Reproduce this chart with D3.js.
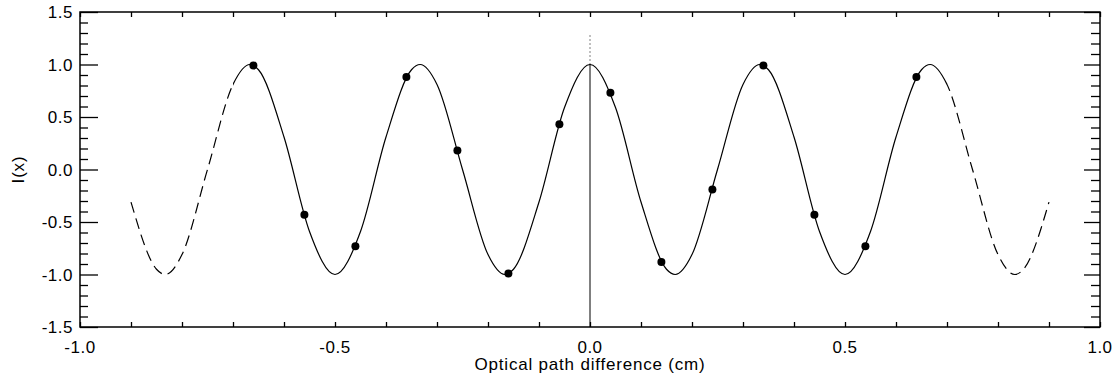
<!DOCTYPE html>
<meta charset="utf-8">
<style>
    body { margin: 0; background: #fff; }
    text { font-family: "Liberation Sans", Arial, sans-serif; fill: #000; }
    .tick-label { font-size: 17px; letter-spacing: 0.5px; }
    .axis-title { font-size: 17px; letter-spacing: 0.8px; }
    .frame { fill: none; stroke: #000; stroke-width: 1.5px; }
    .curve { fill: none; stroke: #000; stroke-width: 1.2px; }
</style>
<svg id="f" width="1120" height="379"></svg>
<script src="https://cdn.jsdelivr.net/npm/d3@7"></script>
<script>
    // curve samples (x in cm, I(x))
    var curveX = [-0.9, -0.85, -0.833, -0.8, -0.75, -0.7, -0.667, -0.65, -0.6, -0.55, -0.5, -0.45, -0.4, -0.35, -0.333, -0.3,
        -0.25, -0.2, -0.167, -0.15, -0.1, -0.05, 0, 0.05, 0.1, 0.15, 0.167, 0.2, 0.25, 0.3, 0.333, 0.35, 0.4, 0.45, 0.5,
        0.55, 0.6, 0.65, 0.667, 0.7, 0.75, 0.8, 0.833, 0.85, 0.9];
    var curveY = [-0.31, -0.95, -1, -0.81, 0, 0.81, 1, 0.95, 0.31, -0.59, -1, -0.59, 0.31, 0.95, 1, 0.81,
        0, -0.81, -1, -0.95, -0.31, 0.59, 1, 0.59, -0.31, -0.95, -1, -0.81, 0, 0.81, 1, 0.95, 0.31, -0.59, -1,
        -0.59, 0.31, 0.95, 1, 0.81, 0, -0.81, -1, -0.95, -0.31];
    // sampled points (dots)
    var pointX = [-0.66, -0.56, -0.46, -0.36, -0.26, -0.16, -0.06, 0.04, 0.14, 0.24, 0.34, 0.44, 0.54, 0.64];
    var pointY = [0.99, -0.43, -0.73, 0.88, 0.18, -0.99, 0.43, 0.73, -0.88, -0.19, 0.99, -0.43, -0.73, 0.88];
    var solidRange = [-0.7, 0.7];
    var xTickLabels = ["-1.0", "-0.5", "0.0", "0.5", "1.0"];
    var yTickLabels = ["-1.5", "-1.0", "-0.5", "0.0", "0.5", "1.0", "1.5"];

    var svg = d3.select("#f"),
        margin = { top: 12, right: 20, bottom: 52, left: 80 },
        width = 1120 - margin.left - margin.right,
        height = 379 - margin.top - margin.bottom,
        g = svg.append("g").attr("transform", "translate(" + margin.left + "," + margin.top + ")");

    var x = d3.scaleLinear().domain([-1, 1]).range([0, width]),
        y = d3.scaleLinear().domain([-1.5, 1.5]).range([height, 0]);

    var curve = curveX.map(function (d, i) { return { x: d, y: curveY[i] }; });
    var points = pointX.map(function (d, i) { return { x: d, y: pointY[i] }; });

    // ticks: major every 0.5, minor every 0.1
    var xMinor = d3.range(-10, 11).map(function (d) { return d / 10; });
    var yMinor = d3.range(-15, 16).map(function (d) { return d / 10; });
    function isMajor(v) { return Math.abs(v * 2 - Math.round(v * 2)) < 1e-6; }

    var xBottom = g.append("g").attr("transform", "translate(0," + height + ")")
        .call(d3.axisBottom(x).tickValues(xMinor).tickSize(-5).tickFormat(""));
    var xTop = g.append("g")
        .call(d3.axisTop(x).tickValues(xMinor).tickSize(-5).tickFormat(""));
    var yLeft = g.append("g")
        .call(d3.axisLeft(y).tickValues(yMinor).tickSize(0).tickFormat(""));
    var yRight = g.append("g").attr("transform", "translate(" + width + ",0)")
        .call(d3.axisRight(y).tickValues(yMinor).tickSize(0).tickFormat(""));

    yLeft.selectAll(".tick line").attr("x2", function (v) { return isMajor(v) ? 18 : 8; });
    yRight.selectAll(".tick line").attr("x2", function (v) { return isMajor(v) ? -16 : -9; });
    g.selectAll(".domain").remove();
    g.selectAll(".tick line").attr("stroke", "#000").attr("stroke-width", 1.3);

    // frame
    g.append("rect").attr("class", "frame")
        .attr("width", width).attr("height", height);

    // tick labels
    g.selectAll(".xl").data(xTickLabels).enter().append("text")
        .attr("class", "tick-label")
        .attr("x", function (d) { return x(+d); })
        .attr("y", height + 26)
        .attr("text-anchor", "middle")
        .text(function (d) { return d; });
    g.selectAll(".yl").data(yTickLabels).enter().append("text")
        .attr("class", "tick-label")
        .attr("x", -7)
        .attr("y", function (d) { return y(+d); })
        .attr("dy", "0.36em")
        .attr("text-anchor", "end")
        .text(function (d) { return d; });

    // axis titles
    g.append("text").attr("class", "axis-title")
        .attr("x", width / 2).attr("y", height + 43)
        .attr("text-anchor", "middle")
        .text("Optical path difference (cm)");
    g.append("text").attr("class", "axis-title")
        .attr("transform", "translate(" + (-56) + "," + y(0) + ") rotate(-90)")
        .attr("text-anchor", "middle")
        .text("I(x)");

    // zero line: solid up to the peak, dotted above
    g.append("line")
        .attr("x1", x(0)).attr("x2", x(0))
        .attr("y1", y(-1.5)).attr("y2", y(1))
        .attr("stroke", "#000").attr("stroke-width", 1);
    g.append("line")
        .attr("x1", x(0)).attr("x2", x(0))
        .attr("y1", y(1)).attr("y2", y(1.3))
        .attr("stroke", "#000").attr("stroke-width", 1)
        .attr("stroke-dasharray", "1,3");

    // clip regions
    var defs = svg.append("defs");
    defs.append("clipPath").attr("id", "solid").append("rect")
        .attr("x", x(solidRange[0])).attr("y", -10)
        .attr("width", x(solidRange[1]) - x(solidRange[0])).attr("height", height + 20);
    var dash = defs.append("clipPath").attr("id", "dashed");
    dash.append("rect").attr("x", 0).attr("y", -10)
        .attr("width", x(solidRange[0])).attr("height", height + 20);
    dash.append("rect").attr("x", x(solidRange[1])).attr("y", -10)
        .attr("width", width - x(solidRange[1])).attr("height", height + 20);

    var line = d3.line()
        .curve(d3.curveMonotoneX)
        .x(function (d) { return x(d.x); })
        .y(function (d) { return y(d.y); });

    g.append("path").attr("class", "curve")
        .attr("d", line(curve))
        .attr("clip-path", "url(#solid)");
    g.append("path").attr("class", "curve")
        .attr("d", line(curve))
        .attr("stroke-dasharray", "11,6")
        .attr("clip-path", "url(#dashed)");

    // dots
    g.selectAll(".dot").data(points).enter().append("circle")
        .attr("class", "dot")
        .attr("cx", function (d) { return x(d.x); })
        .attr("cy", function (d) { return y(d.y); })
        .attr("r", 4)
        .attr("fill", "#000");
</script>
